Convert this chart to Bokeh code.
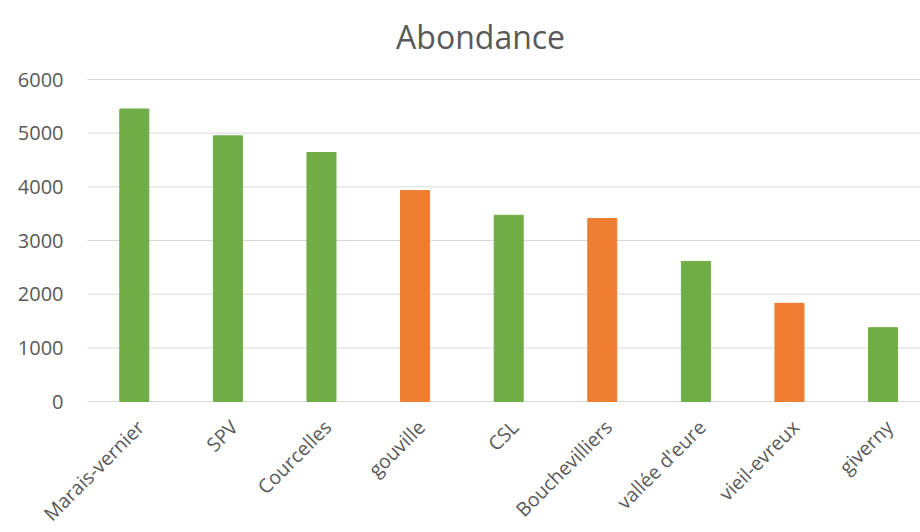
import math
from bokeh.plotting import figure
from bokeh.models import Range1d, ColumnDataSource
from bokeh.core.properties import value
from bokeh.embed import file_html
from bokeh.resources import INLINE

categories = ["Marais-vernier", "SPV", "Courcelles", "gouville", "CSL",
              "Bouchevilliers", "vallée d'eure", "vieil-evreux", "giverny"]
values = [5450, 4950, 4640, 3930, 3470, 3410, 2610, 1830, 1375]
colors = ["#70AD47", "#70AD47", "#70AD47", "#ED7D31", "#70AD47",
          "#ED7D31", "#70AD47", "#ED7D31", "#70AD47"]
y_ticks = [0, 1000, 2000, 3000, 4000, 5000, 6000]
title_text = "Abondance"

FONT = "Open Sans"
TXT = "#595959"
GRID = "#D9D9D9"

# layout of the plot area inside the 920x532 canvas (pixels)
W, H = 920, 532
AREA_LEFT, AREA_TOP, AREA_BOTTOM = 87, 79, 401
X_START, X_END = -0.5, 8.4          # category slots shown in the plot area
Y_MAX = 6000
px_per_x = (W - AREA_LEFT) / (X_END - X_START)
px_per_y = (AREA_BOTTOM - AREA_TOP) / Y_MAX

xs = list(range(len(categories)))
src = ColumnDataSource(dict(x=xs, top=values, color=colors,
                            base=[0] * len(xs), name=categories))
tick_src = ColumnDataSource(dict(y=y_ticks, label=[str(t) for t in y_ticks],
                                 x0=[X_START] * len(y_ticks),
                                 x1=[X_END] * len(y_ticks)))

p = figure(width=W, height=H, output_backend="svg", toolbar_location=None,
           x_range=Range1d(X_START - AREA_LEFT / px_per_x, X_END),
           y_range=Range1d(-(H - AREA_BOTTOM) / px_per_y, Y_MAX + AREA_TOP / px_per_y),
           x_axis_location=None, y_axis_location=None,
           min_border=0)
p.outline_line_color = None
p.xgrid.visible = False
p.ygrid.visible = False

# horizontal gridlines at the value ticks
p.segment(x0="x0", x1="x1", y0="y", y1="y", source=tick_src,
          line_color=GRID, line_width=1)

# bars
p.vbar(x="x", top="top", width=0.31, color="color", source=src)

# value tick labels
p.text(x="x0", y="y", text="label", source=tick_src,
       x_offset=-24, text_align="right", text_baseline="middle",
       text_font=value(FONT), text_font_size="20px", text_color=TXT)

# rotated category labels
p.text(x="x", y="base", text="name", source=src,
       angle=math.pi / 4, x_offset=6, y_offset=22,
       text_align="right", text_baseline="middle",
       text_font=value(FONT), text_font_size="19.5px", text_color=TXT)

# chart title
p.text(x=[3.7], y=[Y_MAX], text=[title_text], y_offset=-43,
       text_align="center", text_baseline="alphabetic",
       text_font=value(FONT), text_font_size="32px", text_color=TXT)

open("out.html", "w").write(file_html(p, INLINE))
